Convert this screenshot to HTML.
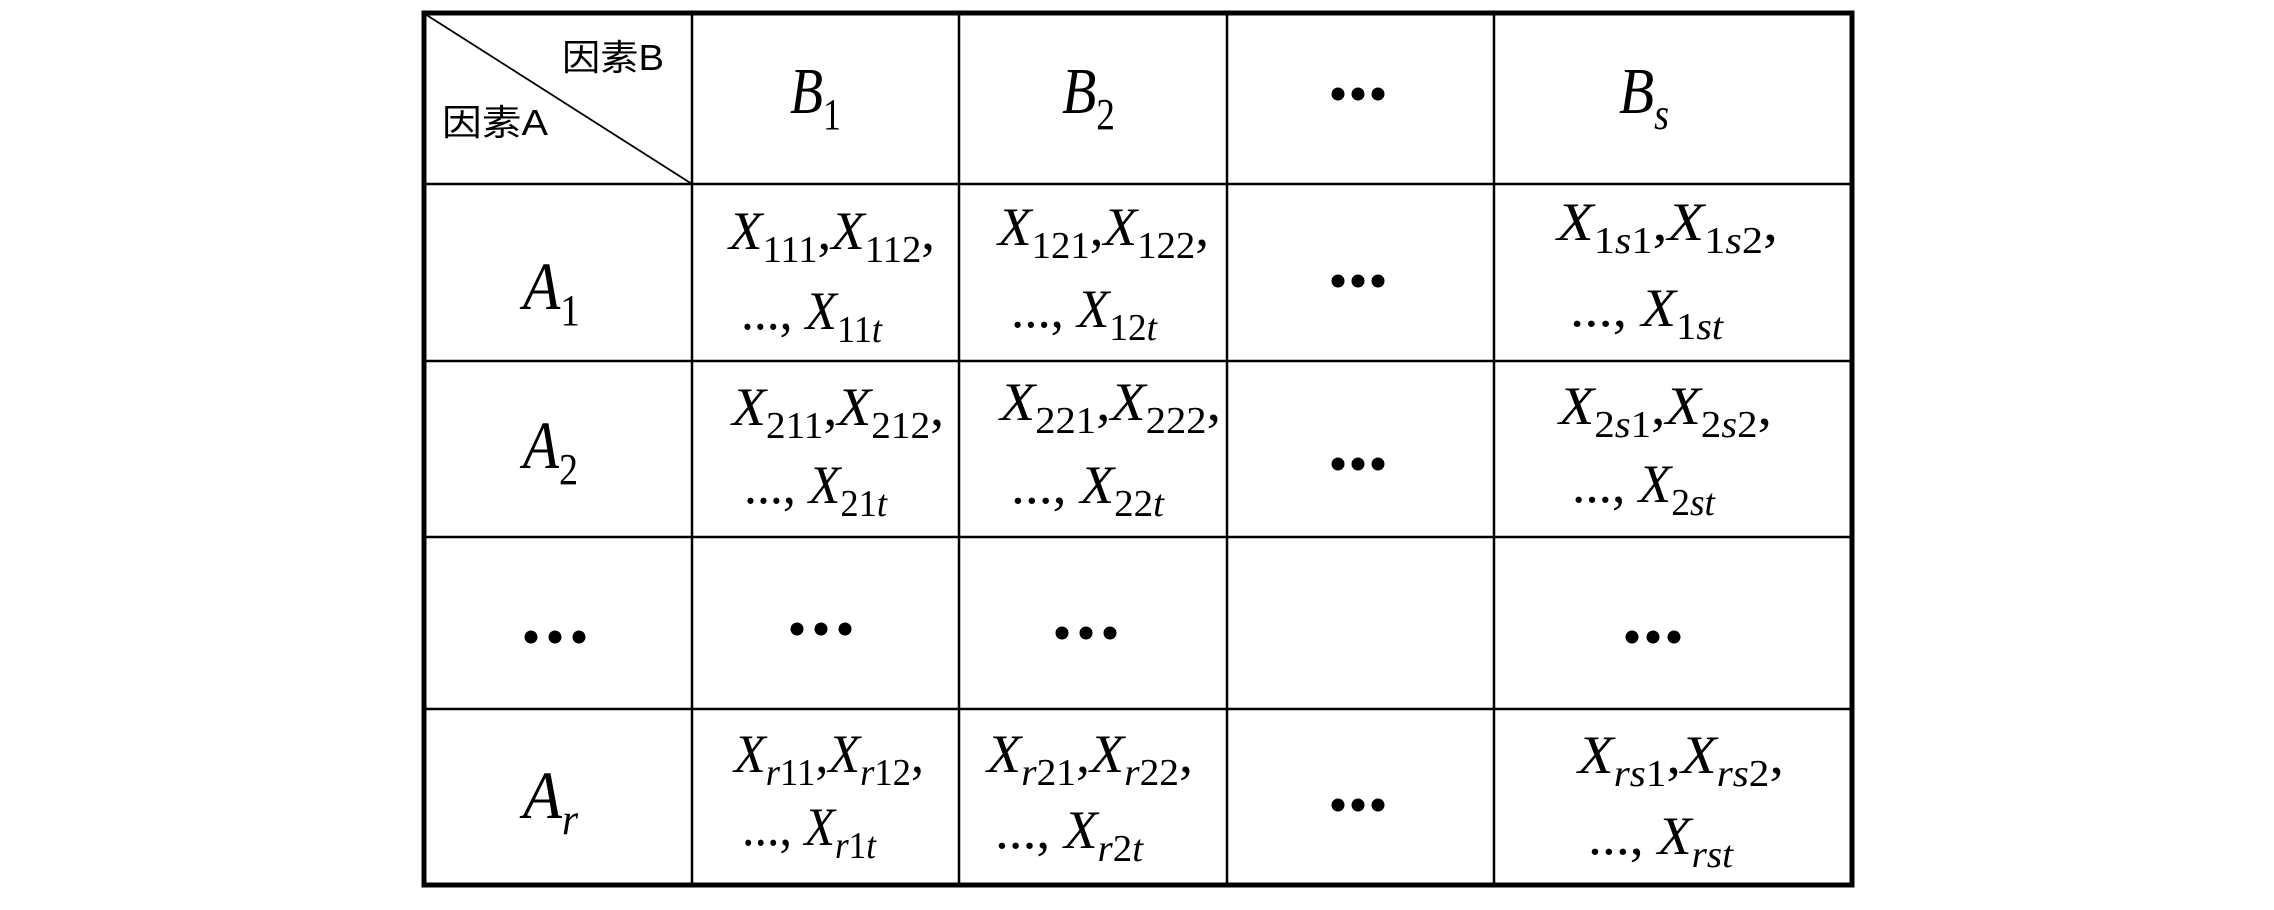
<!DOCTYPE html>
<html><head><meta charset="utf-8"><style>
html,body{margin:0;padding:0;background:#fff;}
svg{display:block;}
text{font-family:"Liberation Serif","Times New Roman",serif;fill:#000;}
.v{font-style:italic;}
.n{font-style:normal;}
.cj{font-family:"Liberation Sans","Noto Sans CJK SC",sans-serif;font-size:36px;}
</style></head><body>
<svg width="2274" height="910" viewBox="0 0 2274 910" xmlns="http://www.w3.org/2000/svg">
<rect width="2274" height="910" fill="#fff"/>
<g stroke="#000" stroke-width="2.5" fill="none">
<line x1="692" y1="12" x2="692" y2="885"/>
<line x1="959" y1="12" x2="959" y2="885"/>
<line x1="1227" y1="12" x2="1227" y2="885"/>
<line x1="1494" y1="12" x2="1494" y2="885"/>
<line x1="423" y1="184" x2="1852" y2="184"/>
<line x1="423" y1="361" x2="1852" y2="361"/>
<line x1="423" y1="537" x2="1852" y2="537"/>
<line x1="423" y1="709" x2="1852" y2="709"/>
<line x1="425" y1="14" x2="692" y2="184" stroke-width="1.8"/>
<rect x="424" y="13" width="1428" height="872" stroke-width="5"/>
</g>
<text class="cj" x="664" y="70" text-anchor="end" textLength="102" lengthAdjust="spacingAndGlyphs">因素B</text>
<text class="cj" x="442" y="135" textLength="106" lengthAdjust="spacingAndGlyphs">因素A</text>

<!-- headers -->
<text x="790" y="113" font-size="66" textLength="51" lengthAdjust="spacingAndGlyphs"><tspan class="v">B</tspan><tspan class="n" font-size="44" dy="16">1</tspan></text>
<text x="1062" y="113" font-size="66" textLength="53" lengthAdjust="spacingAndGlyphs"><tspan class="v">B</tspan><tspan class="n" font-size="44" dy="16">2</tspan></text>
<text x="1619" y="113" font-size="66" textLength="50" lengthAdjust="spacingAndGlyphs"><tspan class="v">B</tspan><tspan class="v" font-size="44" dy="16">s</tspan></text>
<text x="523" y="309" font-size="68" textLength="57" lengthAdjust="spacingAndGlyphs"><tspan class="v">A</tspan><tspan class="n" font-size="44" dy="16">1</tspan></text>
<text x="523" y="468" font-size="68" textLength="55" lengthAdjust="spacingAndGlyphs"><tspan class="v">A</tspan><tspan class="n" font-size="44" dy="16">2</tspan></text>
<text x="523" y="818" font-size="68" textLength="55" lengthAdjust="spacingAndGlyphs"><tspan class="v">A</tspan><tspan class="v" font-size="44" dy="16">r</tspan></text>

<!-- dots -->
<g fill="#000">
<circle cx="1338" cy="94" r="6.5"/><circle cx="1358" cy="94" r="6.5"/><circle cx="1378" cy="94" r="6.5"/>
<circle cx="1338" cy="281" r="6.5"/><circle cx="1358" cy="281" r="6.5"/><circle cx="1378" cy="281" r="6.5"/>
<circle cx="1338" cy="464" r="6.5"/><circle cx="1358" cy="464" r="6.5"/><circle cx="1378" cy="464" r="6.5"/>
<circle cx="1338" cy="805" r="6.5"/><circle cx="1358" cy="805" r="6.5"/><circle cx="1378" cy="805" r="6.5"/>
<circle cx="531" cy="637" r="6.5"/><circle cx="555" cy="637" r="6.5"/><circle cx="579" cy="637" r="6.5"/>
<circle cx="797" cy="629" r="6.5"/><circle cx="821" cy="629" r="6.5"/><circle cx="845" cy="629" r="6.5"/>
<circle cx="1062" cy="633" r="6.5"/><circle cx="1086" cy="633" r="6.5"/><circle cx="1110" cy="633" r="6.5"/>
<circle cx="1632" cy="637" r="6.5"/><circle cx="1653" cy="637" r="6.5"/><circle cx="1674" cy="637" r="6.5"/>
</g>

<!-- row 1 -->
<text x="729" y="249" font-size="54" textLength="206" lengthAdjust="spacingAndGlyphs"><tspan class="v">X</tspan><tspan class="n" font-size="38" dy="13">111</tspan><tspan dy="-13">,</tspan><tspan class="v">X</tspan><tspan class="n" font-size="38" dy="13">112</tspan><tspan dy="-13">,</tspan></text>
<text x="741" y="329" font-size="54" textLength="141" lengthAdjust="spacingAndGlyphs"><tspan>..., </tspan><tspan class="v">X</tspan><tspan class="n" font-size="38" dy="13">11</tspan><tspan class="v" font-size="38">t</tspan></text>
<text x="998" y="245" font-size="54" textLength="211" lengthAdjust="spacingAndGlyphs"><tspan class="v">X</tspan><tspan class="n" font-size="38" dy="13">121</tspan><tspan dy="-13">,</tspan><tspan class="v">X</tspan><tspan class="n" font-size="38" dy="13">122</tspan><tspan dy="-13">,</tspan></text>
<text x="1011" y="327" font-size="54" textLength="146" lengthAdjust="spacingAndGlyphs"><tspan>..., </tspan><tspan class="v">X</tspan><tspan class="n" font-size="38" dy="13">12</tspan><tspan class="v" font-size="38">t</tspan></text>
<text x="1557" y="240" font-size="54" textLength="221" lengthAdjust="spacingAndGlyphs"><tspan class="v">X</tspan><tspan class="n" font-size="38" dy="13">1</tspan><tspan class="v" font-size="38">s</tspan><tspan class="n" font-size="38">1</tspan><tspan dy="-13">,</tspan><tspan class="v">X</tspan><tspan class="n" font-size="38" dy="13">1</tspan><tspan class="v" font-size="38">s</tspan><tspan class="n" font-size="38">2</tspan><tspan dy="-13">,</tspan></text>
<text x="1570" y="326" font-size="54" textLength="153" lengthAdjust="spacingAndGlyphs"><tspan>..., </tspan><tspan class="v">X</tspan><tspan class="n" font-size="38" dy="13">1</tspan><tspan class="v" font-size="38">st</tspan></text>

<!-- row 2 -->
<text x="732" y="425" font-size="54" textLength="212" lengthAdjust="spacingAndGlyphs"><tspan class="v">X</tspan><tspan class="n" font-size="38" dy="13">211</tspan><tspan dy="-13">,</tspan><tspan class="v">X</tspan><tspan class="n" font-size="38" dy="13">212</tspan><tspan dy="-13">,</tspan></text>
<text x="744" y="503" font-size="54" textLength="143" lengthAdjust="spacingAndGlyphs"><tspan>..., </tspan><tspan class="v">X</tspan><tspan class="n" font-size="38" dy="13">21</tspan><tspan class="v" font-size="38">t</tspan></text>
<text x="1000" y="420" font-size="54" textLength="221" lengthAdjust="spacingAndGlyphs"><tspan class="v">X</tspan><tspan class="n" font-size="38" dy="13">221</tspan><tspan dy="-13">,</tspan><tspan class="v">X</tspan><tspan class="n" font-size="38" dy="13">222</tspan><tspan dy="-13">,</tspan></text>
<text x="1011" y="503" font-size="54" textLength="153" lengthAdjust="spacingAndGlyphs"><tspan>..., </tspan><tspan class="v">X</tspan><tspan class="n" font-size="38" dy="13">22</tspan><tspan class="v" font-size="38">t</tspan></text>
<text x="1559" y="424" font-size="54" textLength="213" lengthAdjust="spacingAndGlyphs"><tspan class="v">X</tspan><tspan class="n" font-size="38" dy="13">2</tspan><tspan class="v" font-size="38">s</tspan><tspan class="n" font-size="38">1</tspan><tspan dy="-13">,</tspan><tspan class="v">X</tspan><tspan class="n" font-size="38" dy="13">2</tspan><tspan class="v" font-size="38">s</tspan><tspan class="n" font-size="38">2</tspan><tspan dy="-13">,</tspan></text>
<text x="1572" y="502" font-size="54" textLength="143" lengthAdjust="spacingAndGlyphs"><tspan>..., </tspan><tspan class="v">X</tspan><tspan class="n" font-size="38" dy="13">2</tspan><tspan class="v" font-size="38">st</tspan></text>

<!-- row r -->
<text x="734" y="772" font-size="54" textLength="190" lengthAdjust="spacingAndGlyphs"><tspan class="v">X</tspan><tspan class="v" font-size="38" dy="13">r</tspan><tspan class="n" font-size="38">11</tspan><tspan dy="-13">,</tspan><tspan class="v">X</tspan><tspan class="v" font-size="38" dy="13">r</tspan><tspan class="n" font-size="38">12</tspan><tspan dy="-13">,</tspan></text>
<text x="742" y="845" font-size="54" textLength="134" lengthAdjust="spacingAndGlyphs"><tspan>..., </tspan><tspan class="v">X</tspan><tspan class="v" font-size="38" dy="13">r</tspan><tspan class="n" font-size="38">1</tspan><tspan class="v" font-size="38">t</tspan></text>
<text x="987" y="772" font-size="54" textLength="206" lengthAdjust="spacingAndGlyphs"><tspan class="v">X</tspan><tspan class="v" font-size="38" dy="13">r</tspan><tspan class="n" font-size="38">21</tspan><tspan dy="-13">,</tspan><tspan class="v">X</tspan><tspan class="v" font-size="38" dy="13">r</tspan><tspan class="n" font-size="38">22</tspan><tspan dy="-13">,</tspan></text>
<text x="995" y="848" font-size="54" textLength="148" lengthAdjust="spacingAndGlyphs"><tspan>..., </tspan><tspan class="v">X</tspan><tspan class="v" font-size="38" dy="13">r</tspan><tspan class="n" font-size="38">2</tspan><tspan class="v" font-size="38">t</tspan></text>
<text x="1578" y="773" font-size="54" textLength="206" lengthAdjust="spacingAndGlyphs"><tspan class="v">X</tspan><tspan class="v" font-size="38" dy="13">rs</tspan><tspan class="n" font-size="38">1</tspan><tspan dy="-13">,</tspan><tspan class="v">X</tspan><tspan class="v" font-size="38" dy="13">rs</tspan><tspan class="n" font-size="38">2</tspan><tspan dy="-13">,</tspan></text>
<text x="1588" y="854" font-size="54" textLength="145" lengthAdjust="spacingAndGlyphs"><tspan>..., </tspan><tspan class="v">X</tspan><tspan class="v" font-size="38" dy="13">rst</tspan></text>
</svg>
</body></html>
